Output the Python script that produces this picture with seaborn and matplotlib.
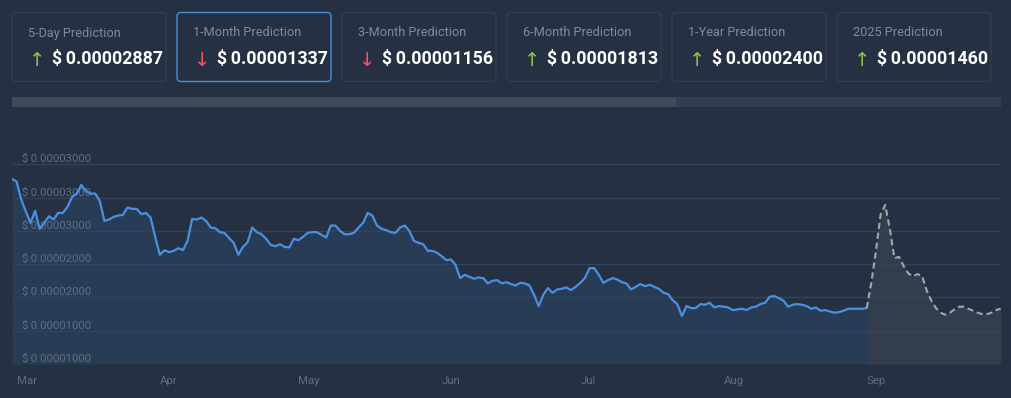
import numpy as np
import pandas as pd
import matplotlib
matplotlib.use("Agg")
import matplotlib.pyplot as plt
import matplotlib.dates as mdates
from matplotlib.patches import FancyBboxPatch, Rectangle
import seaborn as sns

# prices in units of 1e-5 USD, one per day starting Feb 28
history = [3.28, 3.24, 2.97, 2.79, 2.62, 2.80, 2.53, 2.62, 2.72, 2.67,
           2.77, 2.77, 2.86, 3.01, 3.06, 3.19, 3.10, 3.06, 3.06, 2.95,
           2.65, 2.67, 2.71, 2.73, 2.74, 2.85, 2.83, 2.83, 2.75, 2.77,
           2.70, 2.41, 2.14, 2.21, 2.18, 2.20, 2.24, 2.21, 2.35, 2.68,
           2.67, 2.70, 2.65, 2.55, 2.54, 2.48, 2.47, 2.39, 2.32, 2.14,
           2.26, 2.33, 2.55, 2.48, 2.45, 2.38, 2.29, 2.27, 2.30, 2.26,
           2.25, 2.38, 2.36, 2.41, 2.47, 2.48, 2.48, 2.44, 2.40, 2.58,
           2.58, 2.50, 2.45, 2.45, 2.47, 2.55, 2.62, 2.77, 2.73, 2.58,
           2.53, 2.51, 2.48, 2.47, 2.55, 2.58, 2.50, 2.35, 2.32, 2.30,
           2.20, 2.20, 2.17, 2.12, 2.06, 2.07, 1.99, 1.79, 1.84, 1.81,
           1.78, 1.80, 1.79, 1.71, 1.75, 1.76, 1.71, 1.73, 1.70, 1.68,
           1.72, 1.71, 1.68, 1.54, 1.37, 1.54, 1.64, 1.57, 1.62, 1.63,
           1.65, 1.61, 1.66, 1.72, 1.79, 1.94, 1.94, 1.84, 1.72, 1.76,
           1.79, 1.77, 1.73, 1.71, 1.62, 1.66, 1.70, 1.67, 1.69, 1.66,
           1.63, 1.57, 1.55, 1.46, 1.40, 1.22, 1.37, 1.34, 1.34, 1.40,
           1.39, 1.42, 1.35, 1.37, 1.36, 1.35, 1.31, 1.32, 1.33, 1.31,
           1.35, 1.36, 1.40, 1.42, 1.51, 1.52, 1.49, 1.45, 1.36, 1.39,
           1.40, 1.39, 1.37, 1.33, 1.35, 1.30, 1.31, 1.29, 1.27, 1.28,
           1.30, 1.33, 1.33, 1.33, 1.33, 1.34]
# forecast from Sep 1 to Sep 30
forecast = [1.34, 1.72, 2.20, 2.74, 2.89, 2.53, 2.09, 2.11, 1.97, 1.86,
            1.82, 1.85, 1.82, 1.60, 1.45, 1.34, 1.27, 1.24, 1.27, 1.32,
            1.36, 1.36, 1.33, 1.30, 1.27, 1.25, 1.25, 1.27, 1.31, 1.33]

card_titles = ["5-Day Prediction", "1-Month Prediction", "3-Month Prediction",
               "6-Month Prediction", "1-Year Prediction", "2025 Prediction"]
card_values = ["$\u20090.00002887", "$\u20090.00001337", "$\u20090.00001156",
               "$\u20090.00001813", "$\u20090.00002400", "$\u20090.00001460"]
card_up = [True, False, False, True, True, True]

ytick_vals = [0.5, 1.0, 1.5, 2.0, 2.5, 3.0, 3.5]
ytick_labels = ["$\u20090.00001000", "$\u20090.00001000", "$\u20090.00002000",
                "$\u20090.00002000", "$\u20090.00003000", "$\u20090.00003000",
                "$\u20090.00003000"]

BG = "#253142"
GRID = "#34425a"
LABEL = "#5d6e86"

sns.set_style("dark", rc={"axes.facecolor": BG, "figure.facecolor": BG})
plt.rcParams['font.family'] = ['Roboto', 'DejaVu Sans']

hist_df = pd.DataFrame({
    "date": pd.date_range("2023-02-28", periods=len(history), freq="D"),
    "price": np.array(history) * 1e-5})
fc_df = pd.DataFrame({
    "date": pd.date_range("2023-09-01", periods=len(forecast), freq="D"),
    "price": np.array(forecast) * 1e-5})

W, H = 1012, 398
fig = plt.figure(figsize=(W / 100, H / 100), dpi=100)

# ---- prediction cards and scrollbar (pixel coordinates overlay)
top = fig.add_axes([0, 0, 1, 1])
top.set_xlim(0, W)
top.set_ylim(H, 0)
top.axis("off")
for i in range(6):
    x0 = 12 + i * 165
    edge = "#4a8fd8" if i == 1 else "#313d50"
    top.add_patch(FancyBboxPatch((x0, 12.5), 154, 69, boxstyle="round,pad=0,rounding_size=4",
                                 fc=BG, ec=edge, lw=1))
    top.text(x0 + 16, 33, card_titles[i], color="#7b8ca2", fontsize=9.2, va="center", ha="left")
    arrow = "\u2191" if card_up[i] else "\u2193"
    acol = "#8bc34a" if card_up[i] else "#ee5566"
    top.text(x0 + 25.5, 60, arrow, color=acol, fontsize=14, va="center", ha="center",
             family=["DejaVu Sans"])
    top.text(x0 + 40.5, 59.5, card_values[i], color="white", fontsize=12.8, fontweight="bold",
             va="center", ha="left")
top.add_patch(Rectangle((12, 97), 989, 10, fc="#323e50", ec="none"))
top.add_patch(Rectangle((12, 97), 664, 10, fc="#3f4a5b", ec="none"))

# ---- price chart
ax = fig.add_axes([12 / W, 34 / H, 988.7 / W, 233 / H])
ax.set_facecolor("none")
ax.set_axisbelow(False)
ax.fill_between(hist_df["date"], hist_df["price"], 0.5e-5, color="#293c55", lw=0, zorder=0.2)
ax.fill_between(fc_df["date"], fc_df["price"], 0.5e-5, color="#333e4c", lw=0, zorder=0.2)
sns.lineplot(data=hist_df, x="date", y="price", ax=ax, color="#4a90e2", lw=1.6, zorder=3)
sns.lineplot(data=fc_df, x="date", y="price", ax=ax, color="#a3a6ab", lw=1.5,
             dashes=False, zorder=3).lines[-1].set_dashes((3, 1.8))

ax.set_xlim(pd.Timestamp("2023-02-28"), pd.Timestamp("2023-09-30"))
ax.set_ylim(0.5e-5, 4.0e-5)
ax.set_yticks(np.array(ytick_vals) * 1e-5)
ax.set_yticklabels(ytick_labels)
ax.yaxis.grid(True, color=GRID, lw=1, zorder=1)
ax.xaxis.grid(False)
ax.tick_params(axis="y", length=0, pad=-7, labelsize=8.2, labelcolor=LABEL)
for lab in ax.get_yticklabels():
    lab.set_ha("left")
    lab.set_va("bottom")
ax.xaxis.set_major_locator(mdates.MonthLocator())
ax.xaxis.set_major_formatter(mdates.DateFormatter("%b"))
ax.tick_params(axis="x", length=0, pad=9, labelsize=8.2, labelcolor=LABEL)
for lab in ax.get_xticklabels():
    lab.set_ha("left")
ax.set_xlabel("")
ax.set_ylabel("")
for s in ax.spines.values():
    s.set_visible(False)

fig.savefig("out.png", dpi=100, facecolor=BG)
